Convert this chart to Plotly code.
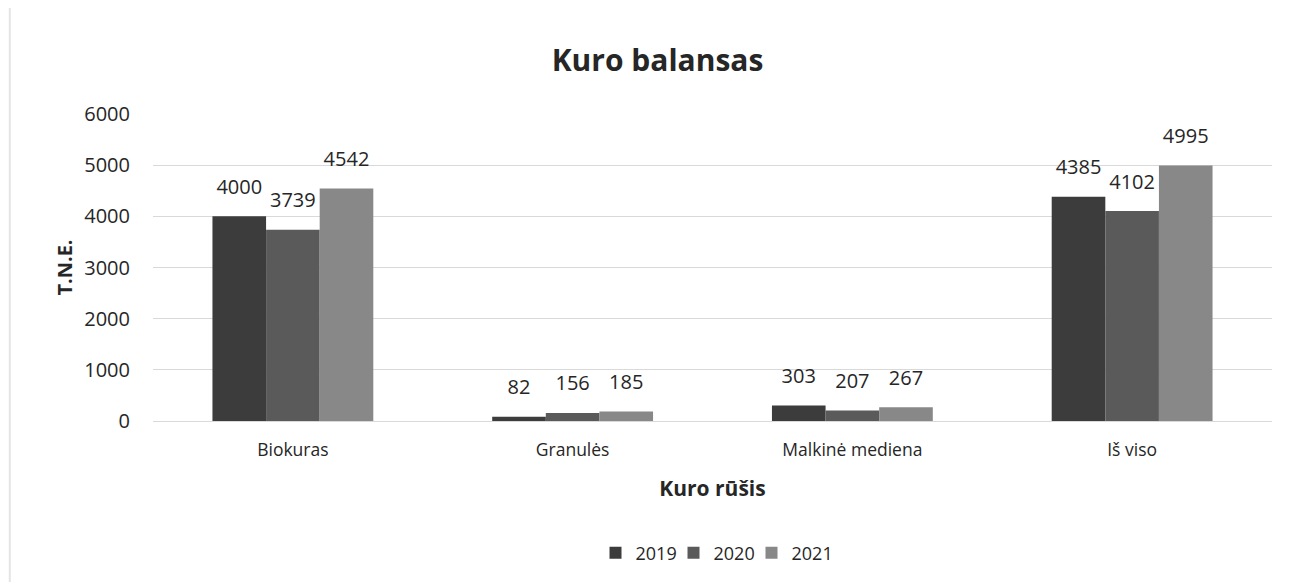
import plotly.graph_objects as go

categories = ["Biokuras", "Granulės", "Malkinė mediena", "Iš viso"]
years = ["2019", "2020", "2021"]
values_2019 = [4000, 82, 303, 4385]
values_2020 = [3739, 156, 207, 4102]
values_2021 = [4542, 185, 267, 4995]
y_ticks = [0, 1000, 2000, 3000, 4000, 5000, 6000]

series = [values_2019, values_2020, values_2021]
colors = ["#3c3c3c", "#5a5a5a", "#888888"]
FONT = "Open Sans"
INK = "#262626"

fig = go.Figure()
for name, vals, col in zip(years, series, colors):
    fig.add_trace(go.Bar(
        x=categories, y=vals, name=name,
        marker=dict(color=col, line=dict(width=0)),
        # number in a 20px span, then a short blank line to lift it off the bar
        text=[f"<span style='font-size:20px'>{v}</span><br>&nbsp;" for v in vals],
        textposition="outside",
        textfont=dict(family=FONT, size=12, color=INK),
        cliponaxis=False,
    ))

# faint left border of the scanned page
fig.add_shape(type="line", xref="paper", yref="paper",
              x0=-0.128, x1=-0.128, y0=-0.6, y1=1.4,
              line=dict(color="#e4e4e4", width=2))

fig.update_layout(
    width=1299, height=582,
    barmode="group", bargap=0.425, bargroupgap=0,
    paper_bgcolor="white", plot_bgcolor="white",
    margin=dict(l=145, r=35, t=106, b=169, autoexpand=False),
    font=dict(family=FONT, color=INK),
    title=dict(text="<b>Kuro balansas</b>", x=0.5, xanchor="center",
               y=0.91, yanchor="middle",
               font=dict(family=FONT, size=30, color=INK)),
    xaxis=dict(
        title=dict(text="<b>Kuro rūšis</b>", font=dict(size=21, color=INK), standoff=21),
        tickfont=dict(size=17.5, color=INK),
        showgrid=False, showline=False, ticks="", ticklabelstandoff=16,
        automargin=False,
    ),
    yaxis=dict(
        title=dict(text="<b>T.N.E.</b>", font=dict(size=20, color=INK), standoff=6),
        range=[0, 6000], tickvals=y_ticks,
        tickfont=dict(size=20, color=INK),
        gridcolor="#d9d9d9", gridwidth=1,
        zeroline=True, zerolinecolor="#d9d9d9", zerolinewidth=1,
        showline=False, ticks="", ticklabelstandoff=22,
        automargin=False,
    ),
    legend=dict(orientation="h", x=0.5, xanchor="center", y=-0.43, yanchor="middle",
                font=dict(size=18, color=INK), itemwidth=30, traceorder="normal",
                entrywidth=33, entrywidthmode="pixels"),
    showlegend=True,
)

fig.write_html("out.html")
